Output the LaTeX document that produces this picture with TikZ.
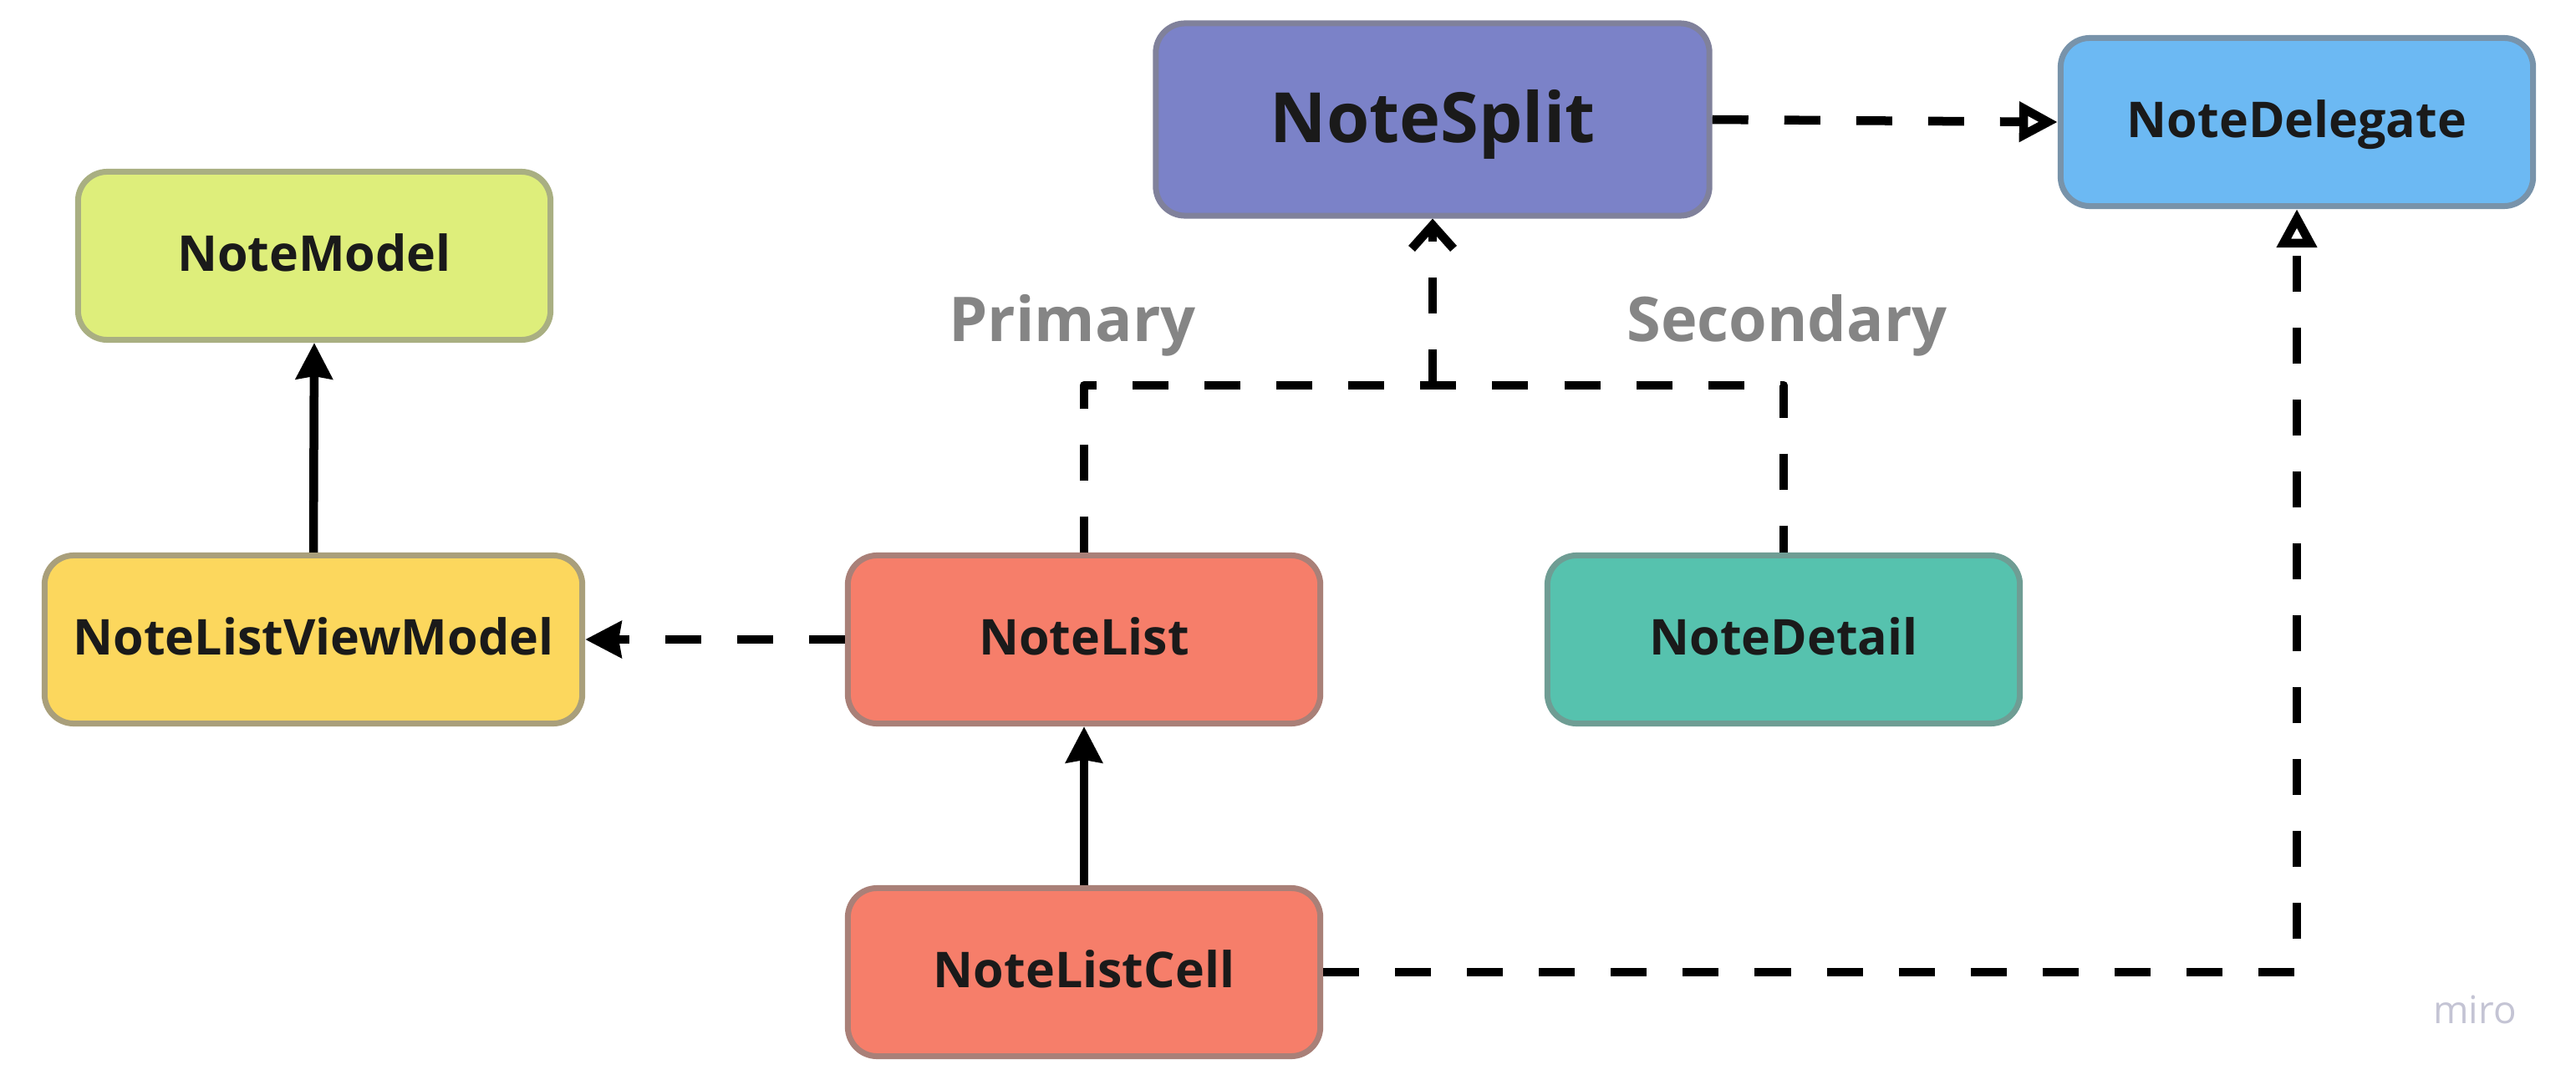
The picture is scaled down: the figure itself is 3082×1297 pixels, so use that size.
\documentclass[tikz,border=0pt]{standalone}
\usepackage{fontspec}
\setmainfont{Open Sans}
\usetikzlibrary{arrows.meta,positioning}
\definecolor{splitnode}{HTML}{7B82C8}
\definecolor{splitedge}{HTML}{80819B}
\definecolor{delegatenode}{HTML}{6CB9F3}
\definecolor{delegateedge}{HTML}{7893AA}
\definecolor{modelnode}{HTML}{DEEE7B}
\definecolor{modeledge}{HTML}{A9AF82}
\definecolor{vmnode}{HTML}{FCD75D}
\definecolor{vmedge}{HTML}{A99F7B}
\definecolor{listnode}{HTML}{F67E6A}
\definecolor{listedge}{HTML}{A98078}
\definecolor{detailnode}{HTML}{56C2AE}
\definecolor{detailedge}{HTML}{6F9D94}
\definecolor{textblack}{HTML}{1A1A1A}
\definecolor{labelgray}{HTML}{858585}
\definecolor{logogray}{HTML}{C4C4D4}
\tikzset{
      base/.style = {draw, line width=0.07cm, rounded corners=0.35cm,
                     minimum width=5.65cm, minimum height=2.01cm,
                     font=\fontsize{16.8}{20}\selectfont\bfseries,
                     text depth=0.2em, text=textblack, align=center},
       arr/.style = {-{Stealth[length=0.43cm,width=0.43cm,inset=0.03cm]},
                     line width=0.105cm},   % solid arrows
       dep/.style = {line width=0.105cm, line join=round,
                     dash pattern=on 0.43cm off 0.43cm},
    depopen/.style = {dep, -{Triangle[open,length=0.46cm,width=0.46cm]}},
    depbarb/.style = {dep, -{Straight Barb[length=0.28cm,width=0.50cm]}},
   depstealth/.style = {dep, -{Stealth[length=0.43cm,width=0.43cm,inset=0.03cm]}},
     label/.style = {font=\fontsize{21}{26}\selectfont\bfseries, text=labelgray},
}

\begin{document}
\begin{tikzpicture}[x=0.01cm,y=-0.01cm]
\useasboundingbox (0,0) rectangle (3082,1297);
% boxes
\node[base, fill=splitnode, draw=splitedge, minimum width=6.62cm,
      minimum height=2.30cm, text depth=0.25em,
      font=\fontsize{23.6}{28}\selectfont\bfseries] (split) at (1714,143) {NoteSplit};
\node[base, fill=delegatenode, draw=delegateedge] (delegate) at (2748,146) {NoteDelegate};
\node[base, fill=modelnode, draw=modeledge] (model) at (376,306) {NoteModel};
\node[base, fill=vmnode, draw=vmedge, minimum width=6.43cm] (vm) at (375,765) {NoteListViewModel};
\node[base, fill=listnode, draw=listedge] (list) at (1297,765) {NoteList};
\node[base, fill=detailnode, draw=detailedge] (detail) at (2134,765) {NoteDetail};
\node[base, fill=listnode, draw=listedge] (cell) at (1297,1163) {NoteListCell};
% labels
\node[label] (primary) at (1283,389) {Primary};
\node[label] (secondary) at (2138,389) {Secondary};
\node[font=\fontsize{13}{15}\selectfont, text=logogray] (logo) at (2961,1208) {miro};
% connectors
\coordinate (bus) at (0,461);
\draw[dep] (list.north) -- (list.north |- bus) -- (detail.north |- bus) -- (detail.north);
\draw[depbarb] (split.south |- bus) -- (split.south);
\draw[depopen] (split.east) -- (delegate.west);
\draw[depstealth] (list.west) -- (vm.east);
\draw[arr] (vm.north) -- (model.south);
\draw[arr] (cell.north) -- (list.south);
\draw[depopen] (cell.east) -- (cell.east -| delegate.south) -- (delegate.south);
\end{tikzpicture}
\end{document}
